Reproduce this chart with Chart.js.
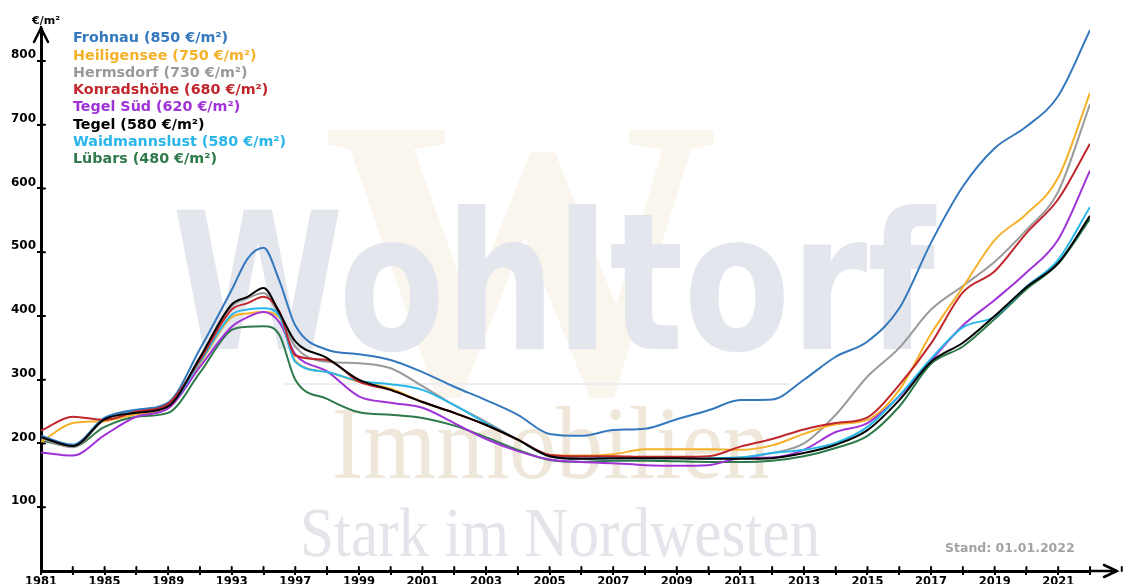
<!DOCTYPE html>
<html><head><meta charset="utf-8">
<script src="https://cdn.jsdelivr.net/npm/chart.js@4.4.1/dist/chart.umd.min.js"></script>
<style>html,body{margin:0;padding:0;background:#fff;}#wrap{width:1127px;height:584px;position:relative;}</style>
</head><body><div id="wrap"><canvas id="c" width="1127" height="584"></canvas></div>
<script>
// ---- data ----
const years = [1981,1983,1985,1987,1989,1991,1993,1994,1995,1996,1997,1998,1999,2000,2001,2002,2003,2004,2005,2006,2007,2008,2009,2010,2011,2012,2013,2014,2015,2016,2017,2018,2019,2020,2021,2022];
const tickYears = [1981,1983,1985,1987,1989,1991,1993,1995,1997,1998,1999,2000,2001,2002,2003,2004,2005,2006,2007,2008,2009,2010,2011,2012,2013,2014,2015,2016,2017,2018,2019,2020,2021,2022];
const yTickValues = [100,200,300,400,500,600,700,800];
const seriesNames = ["Frohnau","Heiligensee","Hermsdorf","Konradshöhe","Tegel Süd","Tegel","Waidmannslust","Lübars"];
const priceLabels = [850,750,730,680,620,580,580,480];
const frohnau      = [212,198,240,253,264,348,441,490,507,455,385,347,340,331,312,289,268,245,215,212,221,223,238,252,268,269,300,336,360,412,515,603,663,697,745,848];
const heiligensee  = [202,232,235,246,256,325,398,404,406,398,330,312,297,286,265,248,229,206,182,181,183,191,191,191,190,197,215,230,237,284,372,445,519,560,617,750];
const hermsdorf    = [208,194,238,250,258,333,415,428,436,400,352,328,326,318,290,260,234,206,182,178,177,177,177,177,178,185,200,245,305,350,410,447,485,535,595,732];
const konradshoehe = [220,242,237,250,262,331,410,420,430,407,338,331,297,284,265,248,229,206,182,180,180,179,179,180,195,207,222,232,241,292,357,437,470,530,583,670];
const tegelSued    = [186,181,213,242,255,320,383,398,406,390,340,313,274,264,256,232,207,188,175,171,169,166,165,166,177,178,190,218,232,274,330,385,425,468,520,628];
const tegel        = [210,196,238,248,258,335,418,430,444,405,360,334,300,284,265,248,229,206,180,176,177,177,177,176,176,177,185,198,221,268,328,358,400,445,483,557];
const waidmannslust= [210,198,240,252,260,328,402,410,412,400,328,312,298,293,284,260,232,206,180,176,177,177,177,177,178,185,190,201,226,275,333,382,399,446,488,571];
const luebars      = [205,195,226,242,248,311,378,383,384,370,300,270,249,245,240,228,210,190,174,171,173,173,172,171,171,173,180,193,212,258,325,352,395,442,482,552];
const seriesValues = [frohnau,heiligensee,hermsdorf,konradshoehe,tegelSued,tegel,waidmannslust,luebars];

// ---- styles ----
const colors = ["#3478be","#f5b12a","#9a9a9a","#c0272d","#a033d8","#000000","#29b6ea","#2e7a4a"];
const drawOrder = [3,6,7,2,5,1,4,8];

// year -> axis position (axis has 2-year steps until 1997, then 1-year steps)
function pos(y){ return y <= 1997 ? (y-1981)/2 : 8 + (y-1997); }

const datasets = seriesValues.map((vals,k)=>({
  label: seriesNames[k] + " (" + priceLabels[k] + " €/m²)",
  data: years.map((yr,i)=>({x: pos(yr), y: vals[i]})),
  borderColor: colors[k],
  backgroundColor: colors[k],
  borderWidth: 2,
  pointRadius: 0,
  cubicInterpolationMode: 'monotone',
  fill: false,
  order: drawOrder[k]
}));

const FONT = "'DejaVu Sans', Verdana, sans-serif";

function fitText(ctx, text, x, baseline, width, font, color){
  ctx.save();
  ctx.font = font;
  ctx.fillStyle = color;
  ctx.textBaseline = 'alphabetic';
  ctx.textAlign = 'left';
  const w = ctx.measureText(text).width;
  ctx.translate(x, baseline);
  ctx.scale(width / w, 1);
  ctx.fillText(text, 0, 0);
  ctx.restore();
}

const watermark = {
  id: 'watermark',
  beforeDraw(chart){
    const ctx = chart.ctx;
    ctx.save();
    ctx.fillStyle = '#fff';
    ctx.fillRect(0,0,chart.width,chart.height);
    fitText(ctx, "W", 322, 392, 398, "bold 400px 'Liberation Serif', serif", "#faf6ee");
    ctx.strokeStyle = '#ecedf1';
    ctx.lineWidth = 2;
    ctx.beginPath(); ctx.moveTo(285, 384); ctx.lineTo(790, 384); ctx.stroke();
    fitText(ctx, "Wohltorf", 172, 349, 763, "bold 190px " + FONT, "#e3e6ed");
    fitText(ctx, "Immobilien", 332, 478, 438, "104px 'Liberation Serif', serif", "#eee7da");
    fitText(ctx, "Stark im Nordwesten", 300, 556, 520, "70px 'Liberation Serif', serif", "#e4e5ea");
    ctx.restore();
  }
};

const overlay = {
  id: 'overlay',
  afterDraw(chart){
    const ctx = chart.ctx;
    const xs = chart.scales.x, ys = chart.scales.y;
    const x0 = xs.left, y0 = ys.bottom;
    ctx.save();
    ctx.strokeStyle = '#000';
    ctx.lineWidth = 2.5;
    ctx.lineCap = 'round';
    // y arrow
    ctx.beginPath();
    ctx.moveTo(x0, ys.top + 2); ctx.lineTo(x0, ys.top - 2);
    ctx.moveTo(x0 - 7, ys.top + 13); ctx.lineTo(x0, ys.top - 1); ctx.lineTo(x0 + 7, ys.top + 13);
    ctx.stroke();
    // x axis extension + arrow
    ctx.beginPath();
    ctx.moveTo(xs.right, y0); ctx.lineTo(1117, y0);
    ctx.moveTo(1104, y0 - 6); ctx.lineTo(1117, y0); ctx.lineTo(1104, y0 + 6);
    ctx.stroke();
    // inner halves of tick marks
    ctx.lineWidth = 2;
    ctx.beginPath();
    for (let i = 0; i <= 34; i++) {
      const px = xs.getPixelForValue(i);
      ctx.moveTo(px, y0); ctx.lineTo(px, y0 - 4);
    }
    yTickValues.forEach(v=>{
      const py = ys.getPixelForValue(v);
      ctx.moveTo(x0, py); ctx.lineTo(x0 + 4, py);
    });
    ctx.stroke();
    // unit label
    ctx.fillStyle = '#000';
    ctx.font = "bold 11px " + FONT;
    ctx.textAlign = 'center';
    ctx.textBaseline = 'middle';
    ctx.fillText("€/m²", 46, 21);
    // legend
    ctx.font = "bold 14.3px " + FONT;
    ctx.textAlign = 'left';
    chart.data.datasets.forEach((ds,k)=>{
      ctx.fillStyle = ds.borderColor;
      ctx.fillText(ds.label, 73, 38.5 + k*17.3);
    });
    // stand
    ctx.fillStyle = '#a3a3a3';
    ctx.font = "bold 12.5px " + FONT;
    ctx.fillText("Stand: 01.01.2022", 945, 549);
    ctx.restore();
  }
};

new Chart(document.getElementById('c'), {
  type: 'line',
  data: { datasets },
  plugins: [watermark, overlay],
  options: {
    responsive: false,
    animation: false,
    devicePixelRatio: 1,
    layout: { padding: { top: 29, right: 37, left: 0, bottom: 0 } },
    plugins: { legend: { display: false }, tooltip: { enabled: false } },
    scales: {
      x: {
        type: 'linear', min: 0, max: 33,
        afterFit(s){ s.height = 13; },
        border: { color: '#000', width: 3 },
        grid: { drawOnChartArea: false, drawTicks: true, tickLength: 4, color: '#000', lineWidth: 2 },
        ticks: {
          stepSize: 1, autoSkip: false, maxTicksLimit: 100, maxRotation: 0, minRotation: 0, padding: 0,
          color: '#000', font: { family: FONT, weight: 'bold', size: 11.5 },
          callback(v){ const i = Math.round(v); return (i % 2 === 0) ? String(tickYears[i]) : ''; }
        }
      },
      y: {
        type: 'linear', min: 0, max: 850,
        afterFit(s){ s.width = 41; },
        border: { color: '#000', width: 3 },
        grid: { drawOnChartArea: false, drawTicks: true, tickLength: 4, color: '#000', lineWidth: 2 },
        ticks: {
          stepSize: 100, maxTicksLimit: 100, padding: 1, labelOffset: -6,
          color: '#000', font: { family: FONT, weight: 'bold', size: 12 },
          callback(v){ return yTickValues.includes(v) ? String(v) : null; }
        }
      }
    }
  }
});
</script></body></html>
